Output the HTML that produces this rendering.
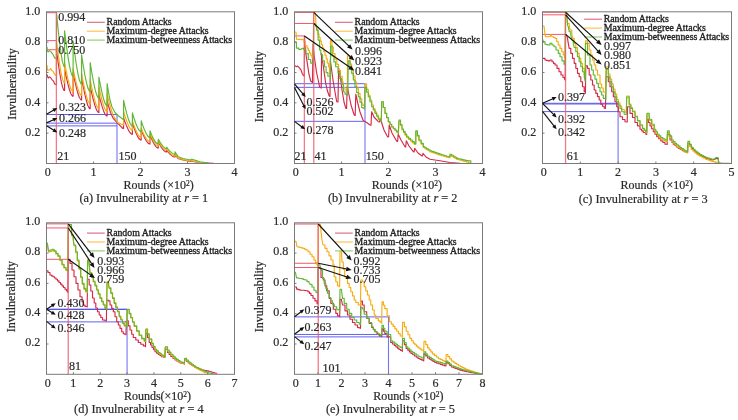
<!DOCTYPE html>
<html><head><meta charset="utf-8"><style>
html,body{margin:0;padding:0;background:#fff;}
svg{display:block;}
#w{will-change:transform;width:738px;height:420px;overflow:hidden;}
text{font-family:"Liberation Serif",serif;fill:#2a2a2a;stroke:#2a2a2a;stroke-width:0.2px;}
.lg{stroke-width:0.35px;fill:#1e1e1e;stroke:#1e1e1e;}
</style></head><body><div id="w">
<svg width="738" height="420" viewBox="0 0 738 420">
<rect width="738" height="420" fill="#fff"/>
<line x1="46.5" y1="12.71" x2="56.37" y2="12.71" stroke="#f03a4c" stroke-width="1" opacity="0.85"/>
<line x1="46.5" y1="40.62" x2="56.37" y2="40.62" stroke="#f03a4c" stroke-width="1" opacity="0.85"/>
<line x1="46.5" y1="49.73" x2="56.37" y2="49.73" stroke="#f03a4c" stroke-width="1" opacity="0.85"/>
<line x1="46.5" y1="114.5" x2="117" y2="114.5" stroke="#4646f0" stroke-width="1" opacity="0.85"/>
<line x1="46.5" y1="123.15" x2="117" y2="123.15" stroke="#4646f0" stroke-width="1" opacity="0.85"/>
<line x1="46.5" y1="125.88" x2="117" y2="125.88" stroke="#4646f0" stroke-width="1" opacity="0.85"/>
<line x1="117" y1="114.5" x2="117" y2="163.5" stroke="#4646f0" stroke-width="1.1" opacity="0.75"/>
<path d="M46.9,74.5 L48.2,78.1 L49.4,76.9 L50.5,77.5 L51.7,79.3 L53.5,81.1 L54.7,84 L56,84.6 L56.5,84.6 L56.5,49.9 L57.84,60.35 L59.48,71.63 L61.12,80.99 L62.46,86.87 L64,90.5 L64.6,90.5 L64.6,68.6 L66.01,75.71 L67.73,83.37 L69.45,89.73 L70.86,93.73 L72.5,96.2 L73.1,96.2 L73.1,72.4 L74.51,79.51 L76.23,87.17 L77.95,93.53 L79.36,97.53 L81,100 L81.6,100 L81.6,77.1 L83.02,85.21 L84.76,93.96 L86.51,101.22 L87.93,105.78 L89.6,108.6 L90.2,108.6 L90.2,86 L91.64,92.82 L93.4,100.18 L95.16,106.29 L96.6,110.13 L98.3,112.5 L98.9,112.5 L98.9,94.3 L100.26,99.89 L101.92,105.91 L103.58,110.92 L104.94,114.06 L106.5,116 L107.1,116 L107.1,100.7 L108.5,106 L110.5,112.5 L113,118 L118.3,123.8 L122.9,128.5 L123.6,128.5 L123.6,117.9 L125.06,122.1 L126.84,126.62 L128.62,130.38 L130.08,132.74 L131.8,134.2 L132.4,134.2 L132.4,123.3 L133.86,127.6 L135.64,132.24 L137.42,136.09 L138.88,138.51 L140.6,140 L141.2,140 L141.2,130 L142.66,133.6 L144.44,137.49 L146.22,140.72 L147.68,142.75 L149.4,144 L150,144 L150,135 L151.37,138.35 L153.05,141.96 L154.73,144.95 L156.11,146.84 L157.7,148 L158.3,148 L158.3,142 L159.67,144.57 L161.35,147.35 L163.03,149.66 L164.41,151.11 L166,152 L166.6,152 L166.6,150 L167.99,151.8 L169.69,153.75 L171.39,155.36 L172.78,156.37 L174.4,157 L175,157 L175,154.5 L178,158.5 L183,160 L190.7,161.5 L191.5,161 L193,161.5 L200,162.8 L213.6,163.4" fill="none" stroke="#d42a48" stroke-width="1.15" stroke-linejoin="round"/>
<path d="M46.9,65 L47.6,70.4 L49.4,69.8 L50.5,68.6 L51.7,70.4 L52.9,71 L54.7,74.5 L56,75.7 L56.5,75.7 L56.5,40.8 L57.84,51.64 L59.48,63.33 L61.12,73.04 L62.46,79.13 L64,82.9 L64.6,82.9 L64.6,62.9 L66.01,70.24 L67.73,78.15 L69.45,84.72 L70.86,88.85 L72.5,91.4 L73.1,91.4 L73.1,68.6 L74.51,75.45 L76.23,82.84 L77.95,88.97 L79.36,92.82 L81,95.2 L81.6,95.2 L81.6,73.3 L83.02,81.15 L84.76,89.62 L86.51,96.66 L87.93,101.07 L89.6,103.8 L90.2,103.8 L90.2,79.5 L91.64,86.97 L93.4,95.02 L95.16,101.71 L96.6,105.91 L98.3,108.5 L98.9,108.5 L98.9,86.4 L100.26,92.84 L101.92,99.78 L103.58,105.54 L104.94,109.16 L106.5,111.4 L107.1,111.4 L107.1,92.9 L108.5,100 L110.5,107.5 L113,115 L117.5,122.5 L122.9,124.8 L123.6,124.8 L123.6,111.4 L125.06,116.19 L126.84,121.36 L128.62,125.64 L130.08,128.34 L131.8,130 L132.4,130 L132.4,120.8 L133.86,125.1 L135.64,129.74 L137.42,133.59 L138.88,136.01 L140.6,137.5 L141.2,137.5 L141.2,128.3 L142.66,131.75 L144.44,135.47 L146.22,138.56 L147.68,140.5 L149.4,141.7 L150,141.7 L150,133.3 L151.37,136.57 L153.05,140.1 L154.73,143.03 L156.11,144.86 L157.7,146 L158.3,146 L158.3,141 L159.67,143.32 L161.35,145.82 L163.03,147.89 L164.41,149.2 L166,150 L166.6,150 L166.6,149 L167.99,150.8 L169.69,152.75 L171.39,154.36 L172.78,155.37 L174.4,156 L175,156 L175,153.5 L178,157.8 L183,159.6 L190.7,161 L191.5,160.5 L193,161 L200,162.6 L208,163.3" fill="none" stroke="#f6ad12" stroke-width="1.15" stroke-linejoin="round"/>
<path d="M46.9,46.5 L47.4,51 L48.2,51.9 L49.4,50.7 L51.1,51.9 L52.9,54.3 L54.7,57.9 L56,58.5 L56.5,58.5 L56.5,12.6 L57.84,26.53 L59.48,41.56 L61.12,54.03 L62.46,61.86 L64,66.7 L64.6,66.7 L64.6,30.8 L66.01,42.49 L67.73,55.1 L69.45,65.57 L70.86,72.14 L72.5,76.2 L73.1,76.2 L73.1,41 L74.51,52.02 L76.23,63.91 L77.95,73.77 L79.36,79.97 L81,83.8 L81.6,83.8 L81.6,54.8 L83.02,64.22 L84.76,74.39 L86.51,82.83 L87.93,88.13 L89.6,91.4 L90.2,91.4 L90.2,62.5 L91.64,71.64 L93.4,81.5 L95.16,89.68 L96.6,94.82 L98.3,98 L98.9,98 L98.9,77.1 L100.26,84.46 L101.92,92.41 L103.58,99 L104.94,103.14 L106.5,105.7 L107.1,105.7 L107.1,83.6 L108.5,92 L110,100 L112,107 L115,112.5 L118,115.5 L122.9,119.3 L123.6,119.3 L123.6,100.3 L125.06,106.87 L126.84,113.95 L128.62,119.83 L130.08,123.52 L131.8,125.8 L132.4,125.8 L132.4,112.9 L133.86,117.74 L135.64,122.96 L137.42,127.3 L138.88,130.02 L140.6,131.7 L141.2,131.7 L141.2,120.8 L142.66,125.1 L144.44,129.74 L146.22,133.59 L147.68,136.01 L149.4,137.5 L150,137.5 L150,130.8 L151.37,134.2 L153.05,137.87 L154.73,140.91 L156.11,142.82 L157.7,144 L158.3,144 L158.3,139.2 L159.67,141.59 L161.35,144.18 L163.03,146.32 L164.41,147.67 L166,148.5 L166.6,148.5 L166.6,147.2 L167.99,149.03 L169.69,151 L171.39,152.64 L172.78,153.66 L174.4,154.3 L175,154.3 L175,151.9 L178,156.5 L183,158.5 L190.7,160 L191.5,159.2 L193,159.6 L200,161.8 L208.6,163.1" fill="none" stroke="#5fb834" stroke-width="1.15" stroke-linejoin="round"/>
<line x1="56.37" y1="12.71" x2="56.37" y2="163.5" stroke="#f06272" stroke-width="1.3" opacity="0.85"/>
<rect x="46.5" y="11.8" width="188" height="151.7" fill="none" stroke="#7a7a7a" stroke-width="1"/>
<line x1="93.5" y1="163.5" x2="93.5" y2="161.5" stroke="#7a7a7a" stroke-width="1"/>
<line x1="140.5" y1="163.5" x2="140.5" y2="161.5" stroke="#7a7a7a" stroke-width="1"/>
<line x1="187.5" y1="163.5" x2="187.5" y2="161.5" stroke="#7a7a7a" stroke-width="1"/>
<line x1="46.5" y1="133.16" x2="48.5" y2="133.16" stroke="#7a7a7a" stroke-width="1"/>
<line x1="46.5" y1="102.82" x2="48.5" y2="102.82" stroke="#7a7a7a" stroke-width="1"/>
<line x1="46.5" y1="72.48" x2="48.5" y2="72.48" stroke="#7a7a7a" stroke-width="1"/>
<line x1="46.5" y1="42.14" x2="48.5" y2="42.14" stroke="#7a7a7a" stroke-width="1"/>
<text x="47.7" y="176.1" font-size="12" text-anchor="middle" >0</text>
<text x="93.5" y="176.1" font-size="12" text-anchor="middle" >1</text>
<text x="140.5" y="176.1" font-size="12" text-anchor="middle" >2</text>
<text x="187.5" y="176.1" font-size="12" text-anchor="middle" >3</text>
<text x="234.5" y="176.1" font-size="12" text-anchor="middle" >4</text>
<text x="40.2" y="136.16" font-size="12" text-anchor="end" >0.2</text>
<text x="40.2" y="105.82" font-size="12" text-anchor="end" >0.4</text>
<text x="40.2" y="75.48" font-size="12" text-anchor="end" >0.6</text>
<text x="40.2" y="45.14" font-size="12" text-anchor="end" >0.8</text>
<text x="40.2" y="14.8" font-size="12" text-anchor="end" >1.0</text>
<text x="0" y="0" font-size="12" text-anchor="middle" transform="translate(15.6,84) rotate(-90)">Invulnerability</text>
<text x="123.5" y="188.6" font-size="12" text-anchor="start" >Rounds (×10<tspan font-size="7.5" dy="-2.5">2</tspan><tspan dy="2.5">)</tspan></text>
<text x="79.4" y="202.2" font-size="12.3" text-anchor="start" >(a) Invulnerability at <tspan font-style="italic">r</tspan> = 1</text>
<line x1="87" y1="22.3" x2="104.8" y2="22.3" stroke="#dd6a86" stroke-width="1.15"/>
<text x="106.6" y="24.9" font-size="9.8" text-anchor="start" class="lg">Random Attacks</text>
<line x1="87" y1="31.2" x2="104.8" y2="31.2" stroke="#fbc24e" stroke-width="1.15"/>
<text x="106.6" y="33.8" font-size="9.8" text-anchor="start" class="lg">Maximum-degree Attacks</text>
<line x1="87" y1="40.1" x2="104.8" y2="40.1" stroke="#8fce6e" stroke-width="1.15"/>
<text x="106.6" y="42.7" font-size="9.8" text-anchor="start" class="lg">Maximum-betweenness Attacks</text>
<text x="58.2" y="20.9" font-size="12" text-anchor="start" >0.994</text>
<text x="58.2" y="43.5" font-size="12" text-anchor="start" >0.810</text>
<text x="58.2" y="54.2" font-size="12" text-anchor="start" >0.750</text>
<line x1="46.5" y1="114.3" x2="53.83" y2="110.09" stroke="#111" stroke-width="1.15"/>
<polygon points="57.3,108.1 54.39,112.07 52.4,108.61" fill="#111"/>
<text x="59" y="111.4" font-size="12" text-anchor="start" >0.323</text>
<line x1="46.5" y1="122.9" x2="53.64" y2="119.72" stroke="#111" stroke-width="1.15"/>
<polygon points="57.3,118.1 54,121.76 52.38,118.1" fill="#111"/>
<text x="59" y="122.1" font-size="12" text-anchor="start" >0.266</text>
<line x1="46.5" y1="125.7" x2="53.9" y2="130.29" stroke="#111" stroke-width="1.15"/>
<polygon points="57.3,132.4 52.42,131.73 54.53,128.33" fill="#111"/>
<text x="59" y="137.1" font-size="12" text-anchor="start" >0.248</text>
<text x="57.2" y="159.9" font-size="12" text-anchor="start" >21</text>
<text x="118.5" y="159.9" font-size="12" text-anchor="start" >150</text>
<line x1="294.5" y1="12.41" x2="313.77" y2="12.41" stroke="#f03a4c" stroke-width="1" opacity="0.85"/>
<line x1="294.5" y1="23.48" x2="313.77" y2="23.48" stroke="#f03a4c" stroke-width="1" opacity="0.85"/>
<line x1="294.5" y1="35.92" x2="304.37" y2="35.92" stroke="#f03a4c" stroke-width="1" opacity="0.85"/>
<line x1="294.5" y1="83.71" x2="365" y2="83.71" stroke="#4646f0" stroke-width="1" opacity="0.85"/>
<line x1="294.5" y1="87.35" x2="365" y2="87.35" stroke="#4646f0" stroke-width="1" opacity="0.85"/>
<line x1="294.5" y1="121.33" x2="365" y2="121.33" stroke="#4646f0" stroke-width="1" opacity="0.85"/>
<line x1="365" y1="83.71" x2="365" y2="163.5" stroke="#4646f0" stroke-width="1.1" opacity="0.75"/>
<path d="M294.5,65.5 L296.4,66.7 L297.6,66.1 L299.4,67.9 L301.1,70.2 L302.3,73.8 L303.5,75.6 L304.3,76 L304.5,36.1 L305.3,50 L307.1,61.9 L308.9,73.8 L310.7,81 L312.5,82.5 L313,44 L314.2,56 L315.4,64.3 L316.6,72.6 L318.4,81 L319.6,86.9 L321.2,88.1 L321.6,53.6 L323,64 L324.4,73.8 L325.5,82.1 L327.3,90.5 L329.1,95.8 L330,96.5 L330.3,60 L333,80 L335,92 L336.7,101.7 L338,102 L338.6,68 L340.5,78 L342,90 L344,102 L345.8,108.3 L346.6,108.5 L347.2,86.7 L349,95 L351,105 L354.2,115 L355.2,115.5 L355.8,94.2 L358,104 L360,112 L363.3,120.8 L366.7,122.5 L370,125 L371,125.3 L371.7,111.7 L374,117 L378.3,121.7 L379.6,122 L380.3,118.5 L384,130 L387.5,136.7 L388.6,137 L389.2,125 L392,133 L396.7,141.2 L397.6,141.5 L398.2,134.2 L401,140 L405,146.7 L405.7,147 L406.3,140.8 L409,146 L413.3,151.7 L414.1,152 L414.7,148.3 L418,153 L421.7,155.8 L422.4,156 L423,153.3 L426,157 L430,159.2 L440,160.8 L450,162.5 L460,163.3" fill="none" stroke="#d42a48" stroke-width="1.15" stroke-linejoin="round"/>
<path d="M294.5,32 L296,32 L296.5,39.2 L298.13,39.2 L298.13,39.37 L299.77,39.37 L299.77,39.53 L301.4,39.53 L301.4,39.7 L302,39.2 L303,39.7 L304.1,39.7 L304.1,42.1 L305.3,42.1 L305.3,44.5 L306,45.7 L307.1,45.7 L307.1,48.1 L308.3,48.1 L308.3,50.5 L309.5,50.5 L309.5,52.9 L310.7,52.9 L310.7,55.2 L311.9,55.2 L311.9,57.6 L313.3,57.6 L313.3,58 L313.6,12.2 L314.8,12.4 L315.5,15 L316,25.5 L316.6,29 L317.8,29 L317.8,33.8 L319,33.8 L319,37.4 L320.2,37.4 L320.2,41 L321.4,41 L321.4,44.5 L322.6,44.5 L322.6,48 L323.8,48 L323.8,51.7 L325,51.7 L325,55.2 L326.2,55.2 L326.2,58.8 L327.3,58.8 L327.3,63 L328.5,63 L328.5,67 L329.7,67 L329.7,72 L330.3,75 L330.5,40.4 L331.9,40.4 L331.9,47 L333.3,47 L333.3,53.6 L335,53.6 L335,59.5 L336.9,59.5 L336.9,64.3 L338.6,64.3 L338.6,70.2 L340.4,70.2 L340.4,76.2 L342.2,76.2 L342.2,82.1 L343.3,82.1 L343.3,87.5 L345,87.5 L345,90 L347.3,90 L347.3,91 L347.5,55.8 L350,55.8 L350,64 L351.65,64 L351.65,70 L353.3,70 L353.3,76 L355,76 L355,82 L356.7,82 L356.7,88 L358.37,88 L358.37,93.33 L360.03,93.33 L360.03,98.67 L361.7,98.67 L361.7,104 L363.1,104 L363.1,105.5 L364.5,105.5 L364.5,107 L364.9,83.8 L366.6,83.8 L366.6,89.4 L368.3,89.4 L368.3,95 L370,95 L370,100 L371.7,100 L371.7,105 L373.35,105 L373.35,108.5 L375,108.5 L375,112 L376.65,112 L376.65,115 L378.3,115 L378.3,118 L379.8,118 L379.8,119.25 L381.3,119.25 L381.3,120.5 L381.7,101.7 L383.35,101.7 L383.35,107.5 L385,107.5 L385,113.3 L386.65,113.3 L386.65,117.65 L388.3,117.65 L388.3,122 L390,122 L390,124.5 L391.7,124.5 L391.7,127 L393.35,127 L393.35,128.75 L395,128.75 L395,130.5 L396.65,130.5 L396.65,132.25 L398.3,132.25 L398.3,134 L399,121 L400.5,121 L400.5,125.5 L402,125.5 L402,130 L403.57,130 L403.57,132.57 L405.13,132.57 L405.13,135.13 L406.7,135.13 L406.7,137.7 L408.57,137.7 L408.57,139.35 L410.45,139.35 L410.45,141 L412.32,141 L412.32,142.65 L414.2,142.65 L414.2,144.3 L415.8,144.3 L415.8,131.5 L417.4,131.5 L417.4,136.25 L419,136.25 L419,141 L421.15,141 L421.15,144.25 L423.3,144.25 L423.3,147.5 L424.98,147.5 L424.98,148.57 L426.65,148.57 L426.65,149.65 L428.32,149.65 L428.32,150.73 L430,150.73 L430,151.8 L431.67,151.8 L431.67,152.37 L433.33,152.37 L433.33,152.93 L435,152.93 L435,153.5 L436.67,153.5 L436.67,154.07 L438.33,154.07 L438.33,154.63 L440,154.63 L440,155.2 L441.66,155.2 L441.66,155.7 L443.32,155.7 L443.32,156.2 L444.98,156.2 L444.98,156.7 L446.64,156.7 L446.64,157.2 L448.3,157.2 L448.3,157.7 L450,157.7 L450,155.5 L451.68,155.5 L451.68,156.45 L453.35,156.45 L453.35,157.4 L455.02,157.4 L455.02,158.35 L456.7,158.35 L456.7,159.3 L458.36,159.3 L458.36,159.74 L460.02,159.74 L460.02,160.18 L461.68,160.18 L461.68,160.62 L463.34,160.62 L463.34,161.06 L465,161.06 L465,161.5 L466.67,161.5 L466.67,162.1 L468.33,162.1 L468.33,162.7 L470,162.7 L470,163.3" fill="none" stroke="#f6ad12" stroke-width="1.15" stroke-linejoin="round"/>
<path d="M294.5,42.1 L296.4,42.1 L296.4,48.1 L298.8,48.1 L298.8,49.3 L301,49.3 L302,48.3 L303.5,48.3 L303.5,49.3 L305.9,49.3 L305.9,53.6 L308.3,53.6 L308.3,59.5 L310.7,59.5 L310.7,63.1 L313.3,63.1 L313.3,65.5 L313.6,23.7 L315.5,23.7 L315.5,26 L316.6,26 L316.6,30.2 L318.1,30.2 L318.1,40.1 L319.6,40.1 L319.6,50 L320.8,50 L320.8,54.8 L322.6,54.8 L322.6,60.7 L324.4,60.7 L324.4,66.7 L326.1,66.7 L326.1,72.6 L327.9,72.6 L327.9,76.2 L330.3,76.2 L330.3,79.2 L330.7,46 L332.1,46 L332.1,56 L333.9,56 L333.9,61.9 L335.7,61.9 L335.7,66.7 L338,66.7 L338,72.6 L339.8,72.6 L339.8,78.6 L341.6,78.6 L341.6,84.5 L343.4,84.5 L343.4,91.7 L345,91.7 L345,94.2 L346.4,94.2 L346.4,94.6 L347.8,94.6 L347.8,95 L348.3,60.8 L350,60.8 L350,68.3 L351.7,68.3 L351.7,73.3 L353.3,73.3 L353.3,80 L355,80 L355,86.7 L356.7,86.7 L356.7,92.5 L358.3,92.5 L358.3,96.7 L360,96.7 L360,102.1 L361.7,102.1 L361.7,107.5 L363.1,107.5 L363.1,108.25 L364.5,108.25 L364.5,109 L364.9,87.4 L366.6,87.4 L366.6,92.05 L368.3,92.05 L368.3,96.7 L370,96.7 L370,101.7 L371.7,101.7 L371.7,106.7 L373.35,106.7 L373.35,110 L375,110 L375,113.3 L376.65,113.3 L376.65,116.25 L378.3,116.25 L378.3,119.2 L379.8,119.2 L379.8,120.45 L381.3,120.45 L381.3,121.7 L381.7,101.7 L383.35,101.7 L383.35,107.5 L385,107.5 L385,113.3 L386.65,113.3 L386.65,117.5 L388.3,117.5 L388.3,121.7 L390,121.7 L390,124.2 L391.7,124.2 L391.7,126.7 L393.35,126.7 L393.35,128.35 L395,128.35 L395,130 L396.65,130 L396.65,131.65 L398.3,131.65 L398.3,133.3 L399,120 L400.5,120 L400.5,124.5 L402,124.5 L402,129 L403.57,129 L403.57,131.57 L405.13,131.57 L405.13,134.13 L406.7,134.13 L406.7,136.7 L408.57,136.7 L408.57,138.35 L410.45,138.35 L410.45,140 L412.32,140 L412.32,141.65 L414.2,141.65 L414.2,143.3 L415.8,143.3 L415.8,130.8 L417.4,130.8 L417.4,135.4 L419,135.4 L419,140 L421.15,140 L421.15,143.35 L423.3,143.35 L423.3,146.7 L424.98,146.7 L424.98,147.72 L426.65,147.72 L426.65,148.75 L428.32,148.75 L428.32,149.78 L430,149.78 L430,150.8 L431.67,150.8 L431.67,151.37 L433.33,151.37 L433.33,151.93 L435,151.93 L435,152.5 L436.67,152.5 L436.67,153.07 L438.33,153.07 L438.33,153.63 L440,153.63 L440,154.2 L441.66,154.2 L441.66,154.7 L443.32,154.7 L443.32,155.2 L444.98,155.2 L444.98,155.7 L446.64,155.7 L446.64,156.2 L448.3,156.2 L448.3,156.7 L450,156.7 L450,154.2 L451.68,154.2 L451.68,155.22 L453.35,155.22 L453.35,156.25 L455.02,156.25 L455.02,157.28 L456.7,157.28 L456.7,158.3 L458.36,158.3 L458.36,158.7 L460.02,158.7 L460.02,159.1 L461.68,159.1 L461.68,159.5 L463.34,159.5 L463.34,159.9 L465,159.9 L465,160.3 L466.65,160.3 L466.65,160.55 L468.3,160.55 L468.3,160.8 L470.8,160.8 L470.8,163.3" fill="none" stroke="#5fb834" stroke-width="1.15" stroke-linejoin="round"/>
<line x1="304.37" y1="35.92" x2="304.37" y2="163.5" stroke="#f06272" stroke-width="1.3" opacity="0.85"/>
<line x1="313.77" y1="12.41" x2="313.77" y2="163.5" stroke="#f06272" stroke-width="1.3" opacity="0.85"/>
<rect x="294.5" y="11.8" width="188" height="151.7" fill="none" stroke="#7a7a7a" stroke-width="1"/>
<line x1="341.5" y1="163.5" x2="341.5" y2="161.5" stroke="#7a7a7a" stroke-width="1"/>
<line x1="388.5" y1="163.5" x2="388.5" y2="161.5" stroke="#7a7a7a" stroke-width="1"/>
<line x1="435.5" y1="163.5" x2="435.5" y2="161.5" stroke="#7a7a7a" stroke-width="1"/>
<line x1="294.5" y1="133.16" x2="296.5" y2="133.16" stroke="#7a7a7a" stroke-width="1"/>
<line x1="294.5" y1="102.82" x2="296.5" y2="102.82" stroke="#7a7a7a" stroke-width="1"/>
<line x1="294.5" y1="72.48" x2="296.5" y2="72.48" stroke="#7a7a7a" stroke-width="1"/>
<line x1="294.5" y1="42.14" x2="296.5" y2="42.14" stroke="#7a7a7a" stroke-width="1"/>
<text x="295.7" y="176.1" font-size="12" text-anchor="middle" >0</text>
<text x="341.5" y="176.1" font-size="12" text-anchor="middle" >1</text>
<text x="388.5" y="176.1" font-size="12" text-anchor="middle" >2</text>
<text x="435.5" y="176.1" font-size="12" text-anchor="middle" >3</text>
<text x="482.5" y="176.1" font-size="12" text-anchor="middle" >4</text>
<text x="288.2" y="136.16" font-size="12" text-anchor="end" >0.2</text>
<text x="288.2" y="105.82" font-size="12" text-anchor="end" >0.4</text>
<text x="288.2" y="75.48" font-size="12" text-anchor="end" >0.6</text>
<text x="288.2" y="45.14" font-size="12" text-anchor="end" >0.8</text>
<text x="288.2" y="14.8" font-size="12" text-anchor="end" >1.0</text>
<text x="0" y="0" font-size="12" text-anchor="middle" transform="translate(263.2,86.6) rotate(-90)">Invulnerability</text>
<text x="371.8" y="188.6" font-size="12" text-anchor="start" >Rounds (×10<tspan font-size="7.5" dy="-2.5">2</tspan><tspan dy="2.5">)</tspan></text>
<text x="327.9" y="202.2" font-size="12.3" text-anchor="start" >(b) Invulnerability at <tspan font-style="italic">r</tspan> = 2</text>
<line x1="335" y1="22.3" x2="352.8" y2="22.3" stroke="#dd6a86" stroke-width="1.15"/>
<text x="354.6" y="24.9" font-size="9.8" text-anchor="start" class="lg">Random Attacks</text>
<line x1="335" y1="31.2" x2="352.8" y2="31.2" stroke="#fbc24e" stroke-width="1.15"/>
<text x="354.6" y="33.8" font-size="9.8" text-anchor="start" class="lg">Maximum-degree Attacks</text>
<line x1="335" y1="40.1" x2="352.8" y2="40.1" stroke="#8fce6e" stroke-width="1.15"/>
<text x="354.6" y="42.7" font-size="9.8" text-anchor="start" class="lg">Maximum-betweenness Attacks</text>
<text x="355" y="54.8" font-size="12" text-anchor="start" >0.996</text>
<text x="355" y="65" font-size="12" text-anchor="start" >0.923</text>
<text x="355" y="74.8" font-size="12" text-anchor="start" >0.841</text>
<line x1="313.77" y1="12.41" x2="348.99" y2="46.14" stroke="#111" stroke-width="1.15"/>
<polygon points="352.6,49.6 347.04,47.46 350.22,44.13" fill="#111"/>
<line x1="313.77" y1="23.48" x2="350.6" y2="57.03" stroke="#111" stroke-width="1.15"/>
<polygon points="354.3,60.4 348.69,58.4 351.78,55" fill="#111"/>
<line x1="304.37" y1="35.92" x2="350.19" y2="67.56" stroke="#111" stroke-width="1.15"/>
<polygon points="354.3,70.4 348.47,69.17 351.08,65.38" fill="#111"/>
<line x1="294.5" y1="83.9" x2="303.11" y2="94.05" stroke="#111" stroke-width="1.15"/>
<polygon points="305.7,97.1 301.26,94.96 304.31,92.37" fill="#111"/>
<text x="306.4" y="105.7" font-size="12" text-anchor="start" >0.526</text>
<line x1="294.5" y1="87.4" x2="303.88" y2="105.74" stroke="#111" stroke-width="1.15"/>
<polygon points="305.7,109.3 301.87,106.2 305.43,104.38" fill="#111"/>
<text x="306.4" y="115.2" font-size="12" text-anchor="start" >0.502</text>
<line x1="294.5" y1="121.4" x2="301.98" y2="126.92" stroke="#111" stroke-width="1.15"/>
<polygon points="305.2,129.3 300.39,128.24 302.77,125.02" fill="#111"/>
<text x="306.4" y="133.6" font-size="12" text-anchor="start" >0.278</text>
<text x="294.6" y="159.9" font-size="12" text-anchor="start" >21</text>
<text x="314.6" y="159.9" font-size="12" text-anchor="start" >41</text>
<text x="365.8" y="159.9" font-size="12" text-anchor="start" >150</text>
<line x1="542.5" y1="12.26" x2="565.56" y2="12.26" stroke="#f03a4c" stroke-width="1" opacity="0.85"/>
<line x1="542.5" y1="14.83" x2="565.56" y2="14.83" stroke="#f03a4c" stroke-width="1" opacity="0.85"/>
<line x1="542.5" y1="34.4" x2="565.56" y2="34.4" stroke="#f03a4c" stroke-width="1" opacity="0.85"/>
<line x1="542.5" y1="103.28" x2="618.1" y2="103.28" stroke="#4646f0" stroke-width="1" opacity="0.85"/>
<line x1="542.5" y1="104.03" x2="618.1" y2="104.03" stroke="#4646f0" stroke-width="1" opacity="0.85"/>
<line x1="542.5" y1="111.62" x2="618.1" y2="111.62" stroke="#4646f0" stroke-width="1" opacity="0.85"/>
<line x1="618.1" y1="103.28" x2="618.1" y2="163.5" stroke="#4646f0" stroke-width="1.1" opacity="0.75"/>
<path d="M542.5,58.3 L545,58.3 L545,60 L546.5,60 L546.5,60.4 L548,60.4 L548,60.8 L550,60.8 L550,60 L552,60 L552,61.7 L553.5,61.7 L553.5,63.35 L555,63.35 L555,65 L557,65 L557,68.3 L559,68.3 L559,71.7 L561,71.7 L561,75 L563,75 L563,77.5 L564.5,77.5 L564.5,79.2 L565.2,80 L565.4,34.6 L566.5,34.6 L566.5,35 L567.5,38.3 L568.3,43.3 L569.2,48.3 L570.8,48.3 L570.8,53.3 L572.5,53.3 L572.5,58.3 L574.2,58.3 L574.2,63.3 L575.8,63.3 L575.8,68.3 L577.5,68.3 L577.5,73.3 L579.2,73.3 L579.2,76.7 L580.8,76.7 L580.8,81.7 L582.5,81.7 L582.5,86.7 L584.2,86.7 L584.2,91.7 L585.4,91.7 L585.4,93.3 L585.8,65.8 L587.5,65.8 L587.5,68.3 L589.2,68.3 L589.2,75 L590.8,75 L590.8,80 L592.5,80 L592.5,85 L594.2,85 L594.2,90 L595.8,90 L595.8,93.3 L597.5,93.3 L597.5,96.65 L599.2,96.65 L599.2,100 L600.8,100 L600.8,104.2 L602.5,104.2 L602.5,106.25 L604.2,106.25 L604.2,108.3 L605.5,108.5 L605.8,76.7 L608.3,76.7 L608.3,81.7 L610,81.7 L610,86.7 L611.7,86.7 L611.7,91.7 L613.35,91.7 L613.35,96.7 L615,96.7 L615,101.7 L616.7,101.7 L616.7,106.7 L618.3,106.7 L618.3,111.7 L620,111.7 L620,116.7 L622.5,116.7 L622.5,119.5 L625,119.5 L625,121.7 L627.2,122 L627.5,106.7 L630,106.7 L630,113.3 L632.5,113.3 L632.5,117.5 L635,117.5 L635,122.5 L637.5,122.5 L637.5,125.8 L640,125.8 L640,129.2 L641.65,129.2 L641.65,130.85 L643.3,130.85 L643.3,132.5 L645.8,132.5 L645.8,134.2 L646.7,134.5 L647,119.2 L648.5,119.2 L648.5,122.5 L650,122.5 L650,125.8 L651.65,125.8 L651.65,128.75 L653.3,128.75 L653.3,131.7 L655,131.7 L655,134.2 L656.7,134.2 L656.7,136.7 L658.75,136.7 L658.75,138.75 L660.8,138.75 L660.8,140.8 L662.9,140.8 L662.9,142.5 L665,142.5 L665,144.2 L667.2,144.2 L667.2,144.5 L667.5,134.2 L670,134.2 L670,140 L671.65,140 L671.65,142.1 L673.3,142.1 L673.3,144.2 L674.97,144.2 L674.97,145.57 L676.63,145.57 L676.63,146.93 L678.3,146.93 L678.3,148.3 L680.27,148.3 L680.27,149.43 L682.23,149.43 L682.23,150.57 L684.2,150.57 L684.2,151.7 L685.9,151.7 L685.9,152.1 L687.6,152.1 L687.6,152.5 L687.9,143.3 L689.6,143.3 L689.6,146 L691.4,146 L691.4,148.5 L693.2,148.5 L693.2,150.25 L695,150.25 L695,152 L696.6,152 L696.6,153.17 L698.2,153.17 L698.2,154.33 L699.8,154.33 L699.8,155.5 L701.77,155.5 L701.77,156.43 L703.73,156.43 L703.73,157.37 L705.7,157.37 L705.7,158.3 L707.7,158.3 L707.7,158.8 L709.7,158.8 L709.7,159.3 L711.7,159.3 L711.7,159.8 L713.35,159.8 L713.35,159.4 L715,159.4 L715,159 L715.5,158.3 L716.85,158.3 L716.85,158.55 L718.2,158.55 L718.2,158.8 L718.8,163.3 L722,163.4" fill="none" stroke="#d42a48" stroke-width="1.15" stroke-linejoin="round"/>
<path d="M542.5,25.8 L544,26 L545,34.2 L545.5,36.7 L550,36.7 L551,34.5 L552,36.7 L553.5,36.7 L553.5,37.5 L555,37.5 L555,38.3 L556.7,38.3 L556.7,41.7 L558.3,41.7 L558.3,45 L560,45 L560,48.3 L561.7,48.3 L561.7,51.7 L563.3,51.7 L563.3,55 L564.5,55 L564.5,57.5 L565.2,58 L565.4,12.2 L566.5,12.2 L566.5,12.5 L567.5,23.3 L569.2,23.3 L569.2,25 L570,30 L571.7,30 L571.7,32.5 L572.5,38.3 L574.2,38.3 L574.2,43.3 L575.8,43.3 L575.8,47.5 L577.5,47.5 L577.5,53.3 L579.2,53.3 L579.2,58.3 L580.8,58.3 L580.8,63.3 L582.5,63.3 L582.5,68.3 L584.2,68.3 L584.2,73.3 L585.2,76.7 L585.5,40.8 L587.5,40.8 L587.5,43.3 L589.2,43.3 L589.2,50 L590.8,50 L590.8,55 L592.5,55 L592.5,60 L594.2,60 L594.2,65 L595.8,65 L595.8,70 L597.5,70 L597.5,75 L600,75 L600,84 L601.65,84 L601.65,88 L603.3,88 L603.3,92 L605.5,92 L605.5,94.5 L606,66.7 L608.3,66.7 L608.3,74 L610,74 L610,79 L611.7,79 L611.7,84 L613.35,84 L613.35,89 L615,89 L615,94 L616.7,94 L616.7,99.5 L618.35,99.5 L618.35,102.75 L620,102.75 L620,106 L621.7,106 L621.7,109.5 L624.2,109.5 L624.2,112 L626.3,112 L626.3,113 L626.7,96 L629.2,96 L629.2,104 L630.85,104 L630.85,107.5 L632.5,107.5 L632.5,111 L635,111 L635,116 L637.5,116 L637.5,120.5 L640,120.5 L640,125 L642.5,125 L642.5,128.5 L644.15,128.5 L644.15,130.5 L645.8,130.5 L645.8,132.5 L646.7,133 L647,115 L649.2,115 L649.2,120.5 L651.7,120.5 L651.7,125.5 L654.2,125.5 L654.2,130.5 L655.85,130.5 L655.85,133 L657.5,133 L657.5,135.5 L659.15,135.5 L659.15,137.15 L660.8,137.15 L660.8,138.8 L662.9,138.8 L662.9,140.15 L665,140.15 L665,141.5 L667.2,141.5 L667.2,142 L667.5,132.5 L669.2,132.5 L669.2,137.5 L671.7,137.5 L671.7,141.5 L673.35,141.5 L673.35,143.25 L675,143.25 L675,145 L676.67,145 L676.67,146.33 L678.33,146.33 L678.33,147.67 L680,147.67 L680,149 L681.67,149 L681.67,149.93 L683.35,149.93 L683.35,150.85 L685.03,150.85 L685.03,151.77 L686.7,151.77 L686.7,152.7 L687.6,153 L687.9,143.8 L689.6,143.8 L689.6,146.5 L691.4,146.5 L691.4,149.5 L693.2,149.5 L693.2,151.25 L695,151.25 L695,153 L696.6,153 L696.6,154.07 L698.2,154.07 L698.2,155.13 L699.8,155.13 L699.8,156.2 L701.77,156.2 L701.77,157.23 L703.73,157.23 L703.73,158.27 L705.7,158.27 L705.7,159.3 L707.7,159.3 L707.7,159.97 L709.7,159.97 L709.7,160.63 L711.7,160.63 L711.7,161.3 L713.67,161.3 L713.67,161.83 L715.63,161.83 L715.63,162.37 L717.6,162.37 L717.6,162.9" fill="none" stroke="#f6ad12" stroke-width="1.15" stroke-linejoin="round"/>
<path d="M542.5,39.2 L543.5,41.7 L545,41.7 L545,44.2 L546.5,44.2 L546.5,44.6 L548,44.6 L548,45 L550,45 L550,43.3 L552,43.3 L552,45 L554,45 L554,46.7 L556,46.7 L556,50 L558.3,50 L558.3,53.3 L560,53.3 L560,56.7 L562,56.7 L562,60.8 L564,60.8 L564,64.2 L565.2,64.2 L565.2,65 L565.4,15 L566.8,15 L566.8,15.5 L567.5,25 L568.3,26.7 L569.2,31.7 L570.8,31.7 L570.8,35 L571.7,40 L573.3,40 L573.3,43.3 L574.2,47.5 L575.8,47.5 L575.8,51.7 L577.5,51.7 L577.5,56.7 L579.2,56.7 L579.2,61.7 L580.8,61.7 L580.8,66.7 L582.5,66.7 L582.5,71.7 L584.2,71.7 L584.2,76.7 L585.2,81.7 L585.5,43.3 L587.5,43.3 L587.5,55 L590,55 L590,65 L591.65,65 L591.65,70 L593.3,70 L593.3,75 L595,75 L595,79.15 L596.7,79.15 L596.7,83.3 L598.35,83.3 L598.35,87.5 L600,87.5 L600,91.7 L601.65,91.7 L601.65,95 L603.3,95 L603.3,98.3 L605.8,98.3 L605.8,99.2 L606.3,69.2 L608.3,69.2 L608.3,76.7 L610,76.7 L610,81.7 L611.7,81.7 L611.7,86.7 L613.35,86.7 L613.35,91.7 L615,91.7 L615,96.7 L616.7,96.7 L616.7,101.7 L618.35,101.7 L618.35,105 L620,105 L620,108.3 L621.7,108.3 L621.7,111.7 L624.2,111.7 L624.2,114.2 L626.3,114.5 L626.7,97 L629.2,97 L629.2,105 L630.85,105 L630.85,108.35 L632.5,108.35 L632.5,111.7 L635,111.7 L635,116.7 L637.5,116.7 L637.5,120.8 L640,120.8 L640,125 L642.5,125 L642.5,128.3 L644.15,128.3 L644.15,130 L645.8,130 L645.8,131.7 L646.7,132 L647,113.3 L649.2,113.3 L649.2,119.2 L651.7,119.2 L651.7,124.2 L654.2,124.2 L654.2,129.2 L655.85,129.2 L655.85,131.7 L657.5,131.7 L657.5,134.2 L659.15,134.2 L659.15,135.85 L660.8,135.85 L660.8,137.5 L662.9,137.5 L662.9,138.75 L665,138.75 L665,140 L667.2,140 L667.2,140.5 L667.5,130.8 L669.2,130.8 L669.2,135.8 L671.7,135.8 L671.7,140 L673.35,140 L673.35,141.65 L675,141.65 L675,143.3 L676.67,143.3 L676.67,144.7 L678.33,144.7 L678.33,146.1 L680,146.1 L680,147.5 L681.67,147.5 L681.67,148.6 L683.35,148.6 L683.35,149.7 L685.03,149.7 L685.03,150.8 L686.7,150.8 L686.7,151.9 L687.6,152 L687.9,141.4 L689.6,141.4 L689.6,144.4 L691.4,144.4 L691.4,147.4 L693.2,147.4 L693.2,149.2 L695,149.2 L695,151 L696.6,151 L696.6,152.17 L698.2,152.17 L698.2,153.33 L699.8,153.33 L699.8,154.5 L701.77,154.5 L701.77,155.5 L703.73,155.5 L703.73,156.5 L705.7,156.5 L705.7,157.5 L707.7,157.5 L707.7,158.1 L709.7,158.1 L709.7,158.7 L711.7,158.7 L711.7,159.3 L713.45,159.3 L713.45,159 L715.2,159 L715.2,158.7 L715.8,157.5 L718.2,157.5 L718.2,157.9 L718.8,163.3 L730,163.3" fill="none" stroke="#5fb834" stroke-width="1.15" stroke-linejoin="round"/>
<line x1="565.56" y1="12.26" x2="565.56" y2="163.5" stroke="#f06272" stroke-width="1.3" opacity="0.85"/>
<rect x="542.5" y="11.8" width="189" height="151.7" fill="none" stroke="#7a7a7a" stroke-width="1"/>
<line x1="580.3" y1="163.5" x2="580.3" y2="161.5" stroke="#7a7a7a" stroke-width="1"/>
<line x1="618.1" y1="163.5" x2="618.1" y2="161.5" stroke="#7a7a7a" stroke-width="1"/>
<line x1="655.9" y1="163.5" x2="655.9" y2="161.5" stroke="#7a7a7a" stroke-width="1"/>
<line x1="693.7" y1="163.5" x2="693.7" y2="161.5" stroke="#7a7a7a" stroke-width="1"/>
<line x1="542.5" y1="133.16" x2="544.5" y2="133.16" stroke="#7a7a7a" stroke-width="1"/>
<line x1="542.5" y1="102.82" x2="544.5" y2="102.82" stroke="#7a7a7a" stroke-width="1"/>
<line x1="542.5" y1="72.48" x2="544.5" y2="72.48" stroke="#7a7a7a" stroke-width="1"/>
<line x1="542.5" y1="42.14" x2="544.5" y2="42.14" stroke="#7a7a7a" stroke-width="1"/>
<text x="543.7" y="176.1" font-size="12" text-anchor="middle" >0</text>
<text x="580.3" y="176.1" font-size="12" text-anchor="middle" >1</text>
<text x="618.1" y="176.1" font-size="12" text-anchor="middle" >2</text>
<text x="655.9" y="176.1" font-size="12" text-anchor="middle" >3</text>
<text x="693.7" y="176.1" font-size="12" text-anchor="middle" >4</text>
<text x="731.5" y="176.1" font-size="12" text-anchor="middle" >5</text>
<text x="536.2" y="136.16" font-size="12" text-anchor="end" >0.2</text>
<text x="536.2" y="105.82" font-size="12" text-anchor="end" >0.4</text>
<text x="536.2" y="75.48" font-size="12" text-anchor="end" >0.6</text>
<text x="536.2" y="45.14" font-size="12" text-anchor="end" >0.8</text>
<text x="536.2" y="14.8" font-size="12" text-anchor="end" >1.0</text>
<text x="0" y="0" font-size="12" text-anchor="middle" transform="translate(511.2,86.4) rotate(-90)">Invulnerability</text>
<text x="620.5" y="188.6" font-size="12" text-anchor="start" >Rounds &#8201;(×10<tspan font-size="7.5" dy="-2.5">2</tspan><tspan dy="2.5">)</tspan></text>
<text x="578.7" y="202.5" font-size="12.3" text-anchor="start" >(c) Invulnerability at <tspan font-style="italic">r</tspan> = 3</text>
<line x1="584.1" y1="19.2" x2="601.9" y2="19.2" stroke="#dd6a86" stroke-width="1.15"/>
<text x="603.7" y="21.8" font-size="9.8" text-anchor="start" class="lg">Random Attacks</text>
<line x1="584.1" y1="28.1" x2="601.9" y2="28.1" stroke="#fbc24e" stroke-width="1.15"/>
<text x="603.7" y="30.7" font-size="9.8" text-anchor="start" class="lg">Maximum-degree Attacks</text>
<line x1="584.1" y1="37" x2="601.9" y2="37" stroke="#8fce6e" stroke-width="1.15"/>
<text x="603.7" y="39.6" font-size="9.8" text-anchor="start" class="lg">Maximum-betweenness Attacks</text>
<text x="604" y="50.3" font-size="12" text-anchor="start" >0.997</text>
<text x="604" y="59.4" font-size="12" text-anchor="start" >0.980</text>
<text x="604" y="68.8" font-size="12" text-anchor="start" >0.851</text>
<line x1="565.56" y1="12.26" x2="597.9" y2="41.64" stroke="#111" stroke-width="1.15"/>
<polygon points="601.6,45 595.98,43 599.08,39.6" fill="#111"/>
<line x1="565.56" y1="14.83" x2="598.26" y2="51.28" stroke="#111" stroke-width="1.15"/>
<polygon points="601.6,55 596.21,52.44 599.64,49.37" fill="#111"/>
<line x1="565.56" y1="34.4" x2="597.76" y2="61.3" stroke="#111" stroke-width="1.15"/>
<polygon points="601.6,64.5 595.9,62.74 598.85,59.21" fill="#111"/>
<line x1="542.5" y1="103.3" x2="552.94" y2="98.71" stroke="#111" stroke-width="1.15"/>
<polygon points="556.6,97.1 553.29,100.74 551.68,97.08" fill="#111"/>
<text x="558" y="100.7" font-size="12" text-anchor="start" >0.397</text>
<line x1="542.5" y1="103.3" x2="553.77" y2="114.57" stroke="#111" stroke-width="1.15"/>
<polygon points="556.6,117.4 552,115.63 554.83,112.8" fill="#111"/>
<text x="558" y="122.9" font-size="12" text-anchor="start" >0.392</text>
<line x1="542.5" y1="111.4" x2="554.12" y2="126.16" stroke="#111" stroke-width="1.15"/>
<polygon points="556.6,129.3 552.24,127 555.39,124.53" fill="#111"/>
<text x="558" y="135.7" font-size="12" text-anchor="start" >0.342</text>
<text x="566.8" y="159.9" font-size="12" text-anchor="start" >61</text>
<line x1="46.5" y1="223.86" x2="68.25" y2="223.86" stroke="#f03a4c" stroke-width="1" opacity="0.85"/>
<line x1="46.5" y1="227.95" x2="68.25" y2="227.95" stroke="#f03a4c" stroke-width="1" opacity="0.85"/>
<line x1="46.5" y1="259.31" x2="68.25" y2="259.31" stroke="#f03a4c" stroke-width="1" opacity="0.85"/>
<line x1="46.5" y1="309.16" x2="127.07" y2="309.16" stroke="#4646f0" stroke-width="1" opacity="0.85"/>
<line x1="46.5" y1="309.46" x2="127.07" y2="309.46" stroke="#4646f0" stroke-width="1" opacity="0.85"/>
<line x1="46.5" y1="321.88" x2="127.07" y2="321.88" stroke="#4646f0" stroke-width="1" opacity="0.85"/>
<line x1="127.07" y1="309.16" x2="127.07" y2="374.3" stroke="#4646f0" stroke-width="1.1" opacity="0.75"/>
<path d="M46.9,270.8 L48,270.8 L48,272.5 L50,272.5 L50,275 L51.5,275 L51.5,275.85 L53,275.85 L53,276.7 L54.5,276.7 L54.5,277.95 L56,277.95 L56,279.2 L57.5,279.2 L57.5,280.85 L59,280.85 L59,282.5 L60.5,282.5 L60.5,284.15 L62,284.15 L62,285.8 L63.5,285.8 L63.5,287.5 L65,287.5 L65,289.2 L66.4,289.2 L66.4,290.85 L67.8,290.85 L67.8,292.5 L68.2,259.4 L70,259.4 L70,263.3 L72,263.3 L72,270 L74,270 L74,276.7 L76,276.7 L76,283.3 L78,283.3 L78,290 L80,290 L80,296.7 L82,296.7 L82,301.7 L83.3,301.7 L83.3,305 L85,305 L85,306.5 L87.2,306.5 L87.2,307 L87.5,279.2 L89.2,279.2 L89.2,285 L90.8,285 L90.8,291 L92.5,291 L92.5,298 L94.2,298 L94.2,303 L95.8,303 L95.8,308 L97.5,308 L97.5,311.7 L99.2,311.7 L99.2,315 L100.8,315 L100.8,317.5 L102.5,317.5 L102.5,320 L105,320 L105,320.8 L106.4,321 L106.7,300 L108.3,300 L108.3,300.8 L110,300.8 L110,305 L111.7,305 L111.7,308.3 L113.3,308.3 L113.3,311.7 L115,311.7 L115,316.7 L116.7,316.7 L116.7,321.7 L118.3,321.7 L118.3,325 L120,325 L120,328.3 L121.7,328.3 L121.7,331.7 L123.3,331.7 L123.3,333.7 L124.65,333.7 L124.65,334.2 L126,334.2 L126,334.7 L126.3,320.8 L128.3,320.8 L128.3,325.8 L130,325.8 L130,330 L131.7,330 L131.7,334.2 L133.3,334.2 L133.3,337.5 L135.8,337.5 L135.8,340 L138.3,340 L138.3,342.5 L140.8,342.5 L140.8,344.2 L143.3,344.2 L143.3,345.8 L145.5,345.8 L145.5,346.7 L145.8,333.3 L147.5,333.3 L147.5,337.5 L149.2,337.5 L149.2,342.5 L150.6,342.5 L150.6,345 L152,345 L152,347.5 L153.5,347.5 L153.5,349.6 L155,349.6 L155,351.7 L156.65,351.7 L156.65,353.1 L158.3,353.1 L158.3,354.5 L160,354.5 L160,355.6 L161.7,355.6 L161.7,356.7 L163.3,356.7 L163.3,357.1 L164.9,357.1 L164.9,357.5 L165.3,349.2 L167.5,349.2 L167.5,352.5 L169.15,352.5 L169.15,354.5 L170.8,354.5 L170.8,356.5 L172.9,356.5 L172.9,358.25 L175,358.25 L175,360 L176.67,360 L176.67,360.93 L178.33,360.93 L178.33,361.87 L180,361.87 L180,362.8 L182.15,362.8 L182.15,363.5 L184.3,363.5 L184.3,364.2 L184.7,359.7 L186.5,359.7 L186.5,361.35 L188.3,361.35 L188.3,363 L189.98,363 L189.98,364.12 L191.65,364.12 L191.65,365.25 L193.32,365.25 L193.32,366.38 L195,366.38 L195,367.5 L196.67,367.5 L196.67,368.27 L198.33,368.27 L198.33,369.03 L200,369.03 L200,369.8 L201.68,369.8 L201.68,370.05 L203.35,370.05 L203.35,370.3 L205.02,370.3 L205.02,370.55 L206.7,370.55 L206.7,370.8 L208.35,370.8 L208.35,371.25 L210,371.25 L210,371.7 L211.68,371.7 L211.68,372.23 L213.35,372.23 L213.35,372.75 L215.02,372.75 L215.02,373.27 L216.7,373.27 L216.7,373.8" fill="none" stroke="#d42a48" stroke-width="1.15" stroke-linejoin="round"/>
<path d="M46.9,244.5 L47.5,246 L48.5,252 L50,252 L50,251.5 L52,251.5 L52,250.5 L54,250.5 L54,251.5 L56,251.5 L56,254 L58,254 L58,256.5 L60,256.5 L60,260.5 L62,260.5 L62,264.8 L64,264.8 L64,268 L66,268 L66,270.5 L67.8,270.5 L67.8,272.2 L68.2,228 L70.5,228 L71.8,228 L71.8,236 L73.2,236 L73.2,239.5 L74,246 L75.7,246 L75.7,252.7 L77.3,252.7 L77.3,261 L79,261 L79,269.3 L80.7,269.3 L80.7,277.7 L82.3,277.7 L82.3,284.3 L84,284.3 L84,289.3 L85.7,289.3 L85.7,291.8 L87.3,291.8 L87.3,292.5 L87.6,259.5 L89,259.5 L89,261 L90,272.5 L91.7,272.5 L91.7,276.7 L93.3,276.7 L93.3,281 L95,281 L95,285 L96.7,285 L96.7,289.2 L98.3,289.2 L98.3,293.4 L100,293.4 L100,297.5 L101.7,297.5 L101.7,301 L103.3,301 L103.3,304.2 L105,304.2 L105,307.5 L106.7,307.5 L106.7,308.7 L107,281.5 L108.5,281.5 L108.5,284 L109.2,287.5 L110.8,287.5 L110.8,292.5 L112.5,292.5 L112.5,297.5 L114.2,297.5 L114.2,302.5 L115.8,302.5 L115.8,306.7 L117.5,306.7 L117.5,311 L119.2,311 L119.2,316 L120.8,316 L120.8,319.2 L122.5,319.2 L122.5,322.5 L124.2,322.5 L124.2,325 L126.8,325 L126.8,326.7 L127.2,309.5 L129.2,309.5 L129.2,313.8 L130.8,313.8 L130.8,318 L132.5,318 L132.5,322.2 L134.2,322.2 L134.2,326.3 L136.7,326.3 L136.7,331.3 L139.2,331.3 L139.2,335.5 L141.7,335.5 L141.7,338.8 L144.2,338.8 L144.2,341.3 L145.5,341.5 L145.8,328.8 L147.5,328.8 L147.5,333.5 L149.2,333.5 L149.2,338.8 L151.7,338.8 L151.7,343.5 L153.35,343.5 L153.35,346.6 L155,346.6 L155,349.7 L156.65,349.7 L156.65,351.35 L158.3,351.35 L158.3,353 L160,353 L160,354.4 L161.7,354.4 L161.7,355.8 L163.3,355.8 L163.3,356.65 L164.9,356.65 L164.9,357.5 L165.3,347.5 L167.5,347.5 L167.5,350.8 L169.15,350.8 L169.15,352.9 L170.8,352.9 L170.8,355 L172.9,355 L172.9,357.1 L175,357.1 L175,359.2 L176.67,359.2 L176.67,360.3 L178.33,360.3 L178.33,361.4 L180,361.4 L180,362.5 L182.15,362.5 L182.15,363.25 L184.3,363.25 L184.3,364 L184.7,359.2 L186.5,359.2 L186.5,360.85 L188.3,360.85 L188.3,362.5 L189.98,362.5 L189.98,363.8 L191.65,363.8 L191.65,365.1 L193.32,365.1 L193.32,366.4 L195,366.4 L195,367.7 L196.68,367.7 L196.68,368.57 L198.35,368.57 L198.35,369.45 L200.02,369.45 L200.02,370.32 L201.7,370.32 L201.7,371.2 L203.85,371.2 L203.85,372.35 L206,372.35 L206,373.5" fill="none" stroke="#f6ad12" stroke-width="1.15" stroke-linejoin="round"/>
<path d="M46.9,242.5 L47.5,244.2 L48.5,250.8 L50,250.8 L50,250 L52,250 L52,249.2 L54,249.2 L54,250.8 L56,250.8 L56,253.3 L58,253.3 L58,255.8 L60,255.8 L60,260 L62,260 L62,264.2 L64,264.2 L64,267.5 L66,267.5 L66,270 L67.8,270 L67.8,271.7 L68.2,224.5 L69.8,224.5 L71.5,224.5 L71.5,235 L73.2,235 L73.2,238.3 L74,245 L75.7,245 L75.7,251.7 L77.3,251.7 L77.3,260 L79,260 L79,268.3 L80.7,268.3 L80.7,276.7 L82.3,276.7 L82.3,283.3 L84,283.3 L84,288.3 L85.7,288.3 L85.7,290.8 L87.3,290.8 L87.3,291.7 L87.6,260.8 L89,260.8 L89,263 L90,273.3 L91.7,273.3 L91.7,277.5 L93.3,277.5 L93.3,281.7 L95,281.7 L95,285.8 L96.7,285.8 L96.7,290 L98.3,290 L98.3,294.2 L100,294.2 L100,298.3 L101.7,298.3 L101.7,301.7 L103.3,301.7 L103.3,305 L105,305 L105,308.3 L106.7,308.3 L106.7,309.5 L107,282.5 L108.5,282.5 L108.5,285 L109.2,288.3 L110.8,288.3 L110.8,293.3 L112.5,293.3 L112.5,298.3 L114.2,298.3 L114.2,303.3 L115.8,303.3 L115.8,307.5 L117.5,307.5 L117.5,311.7 L119.2,311.7 L119.2,316.7 L120.8,316.7 L120.8,320 L122.5,320 L122.5,323.3 L124.2,323.3 L124.2,325.8 L126.8,325.8 L126.8,327.5 L127.2,309.2 L129.2,309.2 L129.2,313.3 L130.8,313.3 L130.8,317.5 L132.5,317.5 L132.5,321.7 L134.2,321.7 L134.2,325.8 L136.7,325.8 L136.7,330.8 L139.2,330.8 L139.2,335 L141.7,335 L141.7,338.3 L144.2,338.3 L144.2,340.8 L145.5,341 L145.8,329.7 L147.5,329.7 L147.5,334.2 L149.2,334.2 L149.2,339.2 L151.7,339.2 L151.7,343.3 L153.35,343.3 L153.35,346.25 L155,346.25 L155,349.2 L156.65,349.2 L156.65,350.85 L158.3,350.85 L158.3,352.5 L160,352.5 L160,353.75 L161.7,353.75 L161.7,355 L163.3,355 L163.3,355.85 L164.9,355.85 L164.9,356.7 L165.3,346.7 L167.5,346.7 L167.5,350 L169.15,350 L169.15,352.1 L170.8,352.1 L170.8,354.2 L172.9,354.2 L172.9,356.25 L175,356.25 L175,358.3 L176.67,358.3 L176.67,359.43 L178.33,359.43 L178.33,360.57 L180,360.57 L180,361.7 L182.15,361.7 L182.15,362.5 L184.3,362.5 L184.3,363.3 L184.7,358.3 L186.5,358.3 L186.5,360 L188.3,360 L188.3,361.7 L189.98,361.7 L189.98,362.95 L191.65,362.95 L191.65,364.2 L193.32,364.2 L193.32,365.45 L195,365.45 L195,366.7 L196.68,366.7 L196.68,367.52 L198.35,367.52 L198.35,368.35 L200.02,368.35 L200.02,369.18 L201.7,369.18 L201.7,370 L203.35,370 L203.35,370.75 L205,370.75 L205,371.5 L206.65,371.5 L206.65,372.25 L208.3,372.25 L208.3,373 L209.97,373 L209.97,373.27 L211.63,373.27 L211.63,373.53 L213.3,373.53 L213.3,373.8" fill="none" stroke="#5fb834" stroke-width="1.15" stroke-linejoin="round"/>
<line x1="68.25" y1="223.86" x2="68.25" y2="374.3" stroke="#f06272" stroke-width="1.3" opacity="0.85"/>
<rect x="46.5" y="222.8" width="188" height="151.5" fill="none" stroke="#7a7a7a" stroke-width="1"/>
<line x1="73.36" y1="374.3" x2="73.36" y2="372.3" stroke="#7a7a7a" stroke-width="1"/>
<line x1="100.21" y1="374.3" x2="100.21" y2="372.3" stroke="#7a7a7a" stroke-width="1"/>
<line x1="127.07" y1="374.3" x2="127.07" y2="372.3" stroke="#7a7a7a" stroke-width="1"/>
<line x1="153.93" y1="374.3" x2="153.93" y2="372.3" stroke="#7a7a7a" stroke-width="1"/>
<line x1="180.79" y1="374.3" x2="180.79" y2="372.3" stroke="#7a7a7a" stroke-width="1"/>
<line x1="207.64" y1="374.3" x2="207.64" y2="372.3" stroke="#7a7a7a" stroke-width="1"/>
<line x1="46.5" y1="344" x2="48.5" y2="344" stroke="#7a7a7a" stroke-width="1"/>
<line x1="46.5" y1="313.7" x2="48.5" y2="313.7" stroke="#7a7a7a" stroke-width="1"/>
<line x1="46.5" y1="283.4" x2="48.5" y2="283.4" stroke="#7a7a7a" stroke-width="1"/>
<line x1="46.5" y1="253.1" x2="48.5" y2="253.1" stroke="#7a7a7a" stroke-width="1"/>
<text x="47.7" y="387.3" font-size="12" text-anchor="middle" >0</text>
<text x="73.36" y="387.3" font-size="12" text-anchor="middle" >1</text>
<text x="100.21" y="387.3" font-size="12" text-anchor="middle" >2</text>
<text x="127.07" y="387.3" font-size="12" text-anchor="middle" >3</text>
<text x="153.93" y="387.3" font-size="12" text-anchor="middle" >4</text>
<text x="180.79" y="387.3" font-size="12" text-anchor="middle" >5</text>
<text x="207.64" y="387.3" font-size="12" text-anchor="middle" >6</text>
<text x="234.5" y="387.3" font-size="12" text-anchor="middle" >7</text>
<text x="40.2" y="346.3" font-size="12" text-anchor="end" >0.2</text>
<text x="40.2" y="316" font-size="12" text-anchor="end" >0.4</text>
<text x="40.2" y="285.7" font-size="12" text-anchor="end" >0.6</text>
<text x="40.2" y="255.4" font-size="12" text-anchor="end" >0.8</text>
<text x="40.2" y="225.1" font-size="12" text-anchor="end" >1.0</text>
<text x="0" y="0" font-size="12" text-anchor="middle" transform="translate(15.3,296.6) rotate(-90)">Invulnerability</text>
<text x="123.9" y="399.5" font-size="12" text-anchor="start" >Rounds(×10<tspan font-size="7.5" dy="-2.5">2</tspan><tspan dy="2.5">)</tspan></text>
<text x="74.1" y="412.5" font-size="12.3" text-anchor="start" >(d) Invulnerability at <tspan font-style="italic">r</tspan> = 4</text>
<line x1="87" y1="233.1" x2="104.8" y2="233.1" stroke="#dd6a86" stroke-width="1.15"/>
<text x="106.6" y="235.7" font-size="9.8" text-anchor="start" class="lg">Random Attacks</text>
<line x1="87" y1="242" x2="104.8" y2="242" stroke="#fbc24e" stroke-width="1.15"/>
<text x="106.6" y="244.6" font-size="9.8" text-anchor="start" class="lg">Maximum-degree Attacks</text>
<line x1="87" y1="250.9" x2="104.8" y2="250.9" stroke="#8fce6e" stroke-width="1.15"/>
<text x="106.6" y="253.5" font-size="9.8" text-anchor="start" class="lg">Maximum-betweenness Attacks</text>
<text x="97.2" y="264.8" font-size="12" text-anchor="start" >0.993</text>
<text x="97.2" y="273.9" font-size="12" text-anchor="start" >0.966</text>
<text x="97.2" y="282.9" font-size="12" text-anchor="start" >0.759</text>
<line x1="68.25" y1="223.86" x2="91.45" y2="254.04" stroke="#111" stroke-width="1.15"/>
<polygon points="94.5,258 89.32,255.04 92.97,252.24" fill="#111"/>
<line x1="68.25" y1="227.95" x2="91.76" y2="263.82" stroke="#111" stroke-width="1.15"/>
<polygon points="94.5,268 89.56,264.66 93.41,262.14" fill="#111"/>
<line x1="68.25" y1="259.31" x2="90.9" y2="275.14" stroke="#111" stroke-width="1.15"/>
<polygon points="95,278 89.17,276.74 91.81,272.96" fill="#111"/>
<line x1="46.5" y1="309.2" x2="52.33" y2="305.46" stroke="#111" stroke-width="1.15"/>
<polygon points="55.7,303.3 52.99,307.41 50.83,304.05" fill="#111"/>
<text x="57.6" y="307.3" font-size="12" text-anchor="start" >0.430</text>
<line x1="46.5" y1="309.2" x2="52.28" y2="312.72" stroke="#111" stroke-width="1.15"/>
<polygon points="55.7,314.8 50.82,314.17 52.9,310.75" fill="#111"/>
<text x="57.6" y="319.1" font-size="12" text-anchor="start" >0.428</text>
<line x1="46.5" y1="321.4" x2="52.55" y2="326.13" stroke="#111" stroke-width="1.15"/>
<polygon points="55.7,328.6 50.92,327.4 53.39,324.25" fill="#111"/>
<text x="57.6" y="332.4" font-size="12" text-anchor="start" >0.346</text>
<text x="69" y="370.2" font-size="12" text-anchor="start" >81</text>
<line x1="294.5" y1="224.01" x2="318.24" y2="224.01" stroke="#f03a4c" stroke-width="1" opacity="0.85"/>
<line x1="294.5" y1="263.25" x2="318.24" y2="263.25" stroke="#f03a4c" stroke-width="1" opacity="0.85"/>
<line x1="294.5" y1="267.49" x2="318.24" y2="267.49" stroke="#f03a4c" stroke-width="1" opacity="0.85"/>
<line x1="294.5" y1="316.88" x2="388.5" y2="316.88" stroke="#4646f0" stroke-width="1" opacity="0.85"/>
<line x1="294.5" y1="334.46" x2="388.5" y2="334.46" stroke="#4646f0" stroke-width="1" opacity="0.85"/>
<line x1="294.5" y1="336.88" x2="388.5" y2="336.88" stroke="#4646f0" stroke-width="1" opacity="0.85"/>
<line x1="388.5" y1="316.88" x2="388.5" y2="374.3" stroke="#4646f0" stroke-width="1.1" opacity="0.75"/>
<path d="M294.5,287 L296.5,287 L296.5,289.1 L298.25,289.1 L298.25,289.65 L300,289.65 L300,290.2 L303,290.2 L304.5,290.2 L304.5,290.45 L306,290.45 L306,290.7 L308,290.7 L308,291.8 L309.5,291.8 L309.5,293.4 L311,293.4 L311,295.5 L313,295.5 L313,298.2 L315,298.2 L315,300.9 L317,300.9 L317,303.6 L317.9,304 L318.1,267.6 L319.5,267.6 L319.5,268 L321,268 L321,277.5 L323.3,277.5 L323.3,280 L325,280 L325,285.8 L326.7,285.8 L326.7,290.8 L329.2,290.8 L329.2,298.3 L330.8,298.3 L330.8,303.3 L333.3,303.3 L333.3,309.2 L335.8,309.2 L335.8,313.3 L337.5,313.3 L337.5,315.8 L339.7,315.8 L339.7,316.7 L340,299.2 L341.5,299.2 L341.5,300 L342.5,305 L345,305 L345,310.8 L347.5,310.8 L347.5,315 L350,315 L350,319.2 L352.5,319.2 L352.5,322.5 L355,322.5 L355,325 L357.5,325 L357.5,327.5 L359,327.5 L359,327.9 L360.5,327.9 L360.5,328.3 L360.8,301 L362.5,301 L362.5,305 L364.2,305 L364.2,311.7 L366.7,311.7 L366.7,318.3 L369.2,318.3 L369.2,323.3 L371.7,323.3 L371.7,327.5 L373.35,327.5 L373.35,329.6 L375,329.6 L375,331.7 L377.1,331.7 L377.1,333.75 L379.2,333.75 L379.2,335.8 L381.7,335.8 L381.7,336.7 L382,328.8 L383.4,328.8 L383.4,331.15 L384.8,331.15 L384.8,333.5 L387.1,333.5 L387.1,336.9 L388.6,336.9 L390.7,336.9 L390.7,342.5 L392.5,342.5 L392.5,344 L394.3,344 L394.3,345.5 L395.87,345.5 L395.87,346.83 L397.43,346.83 L397.43,348.17 L399,348.17 L399,349.5 L400.65,349.5 L400.65,350.45 L402.3,350.45 L402.3,351.4 L402.6,340.7 L404.4,340.7 L404.4,344.6 L406.2,344.6 L406.2,348.5 L407.8,348.5 L407.8,350.17 L409.4,350.17 L409.4,351.83 L411,351.83 L411,353.5 L412.77,353.5 L412.77,354.75 L414.55,354.75 L414.55,356 L416.33,356 L416.33,357.25 L418.1,357.25 L418.1,358.5 L419.97,358.5 L419.97,359.33 L421.83,359.33 L421.83,360.17 L423.7,360.17 L423.7,361 L424,353.8 L425.8,353.8 L425.8,355.9 L427.6,355.9 L427.6,358 L429.4,358 L429.4,359.12 L431.2,359.12 L431.2,360.25 L433,360.25 L433,361.38 L434.8,361.38 L434.8,362.5 L436.7,362.5 L436.7,363.14 L438.6,363.14 L438.6,363.78 L440.5,363.78 L440.5,364.42 L442.4,364.42 L442.4,365.06 L444.3,365.06 L444.3,365.7 L445.9,365.7 L445.9,366 L446.2,362.1 L447.93,362.1 L447.93,363.73 L449.67,363.73 L449.67,365.37 L451.4,365.37 L451.4,367 L453.32,367 L453.32,367.7 L455.24,367.7 L455.24,368.4 L457.16,368.4 L457.16,369.1 L459.08,369.1 L459.08,369.8 L461,369.8 L461,370.5 L462.9,370.5 L462.9,370.9 L464.8,370.9 L464.8,371.3 L466.7,371.3 L466.7,371.7 L468.6,371.7 L468.6,372.1 L470.5,372.1 L470.5,372.5 L472.07,372.5 L472.07,372.77 L473.63,372.77 L473.63,373.03 L475.2,373.03 L475.2,373.3 L476.77,373.3 L476.77,373.48 L478.35,373.48 L478.35,373.65 L479.93,373.65 L479.93,373.82 L481.5,373.82 L481.5,374" fill="none" stroke="#d42a48" stroke-width="1.15" stroke-linejoin="round"/>
<path d="M294.5,241.3 L296,241.3 L297,246.7 L298.5,246.7 L298.5,247.1 L300,247.1 L300,247.5 L301.5,247.5 L301.5,247.9 L303,247.9 L303,248.3 L304.5,248.3 L304.5,249.15 L306,249.15 L306,250 L308,250 L308,251.7 L310,251.7 L310,254.2 L312,254.2 L312,256.7 L314,256.7 L314,260 L315.5,260 L315.5,262.5 L317,262.5 L317,265 L317.9,265.5 L318.1,224.1 L320.5,224.2 L321,231.7 L322,240 L323,245 L325,245 L325,248.3 L327,248.3 L327,251.7 L329,251.7 L329,255.8 L331,255.8 L331,260 L333,260 L333,265 L334.2,265 L334.2,276.7 L335.8,276.7 L335.8,281.7 L337.5,281.7 L337.5,285.8 L339.6,285.8 L339.6,286.7 L340,251.7 L341.5,251.7 L342,262 L343.35,262 L343.35,269.35 L344.7,269.35 L344.7,276.7 L345.8,276.7 L345.8,278.3 L347.5,278.3 L347.5,283.3 L349.2,283.3 L349.2,287.5 L350.8,287.5 L350.8,291.7 L352.5,291.7 L352.5,295.8 L354.2,295.8 L354.2,300 L355.8,300 L355.8,302.5 L358.3,302.5 L358.3,305 L360.5,305 L360.5,305.8 L360.8,280 L362.5,280 L362.5,281.7 L364.2,281.7 L364.2,286.7 L365.8,286.7 L365.8,290.8 L367.5,290.8 L367.5,295 L369.2,295 L369.2,300 L370.8,300 L370.8,305 L372.5,305 L372.5,310 L374.2,310 L374.2,315 L375.8,315 L375.8,318.3 L378.3,318.3 L378.3,320.8 L380,320.8 L380,322.05 L381.7,322.05 L381.7,323.3 L382,301.9 L383.4,301.9 L383.4,305.25 L384.8,305.25 L384.8,308.6 L387.1,308.6 L387.1,315.7 L389.5,315.7 L389.5,321.7 L391.3,321.7 L391.3,324.05 L393.1,324.05 L393.1,326.4 L394.9,326.4 L394.9,328.8 L396.7,328.8 L396.7,331.2 L398.45,331.2 L398.45,333.6 L400.2,333.6 L400.2,336 L402.3,336 L402.3,337.2 L402.6,322.4 L404.4,322.4 L404.4,326.8 L406.2,326.8 L406.2,331.2 L408,331.2 L408,334.75 L409.8,334.75 L409.8,338.3 L411.55,338.3 L411.55,340.7 L413.3,340.7 L413.3,343.1 L414.9,343.1 L414.9,344.7 L416.5,344.7 L416.5,346.3 L418.1,346.3 L418.1,347.9 L419.97,347.9 L419.97,349.07 L421.83,349.07 L421.83,350.23 L423.7,350.23 L423.7,351.4 L424,341.4 L425.8,341.4 L425.8,344.65 L427.6,344.65 L427.6,347.9 L429.2,347.9 L429.2,349.87 L430.8,349.87 L430.8,351.83 L432.4,351.83 L432.4,353.8 L434.37,353.8 L434.37,355.4 L436.33,355.4 L436.33,357 L438.3,357 L438.3,358.6 L440.3,358.6 L440.3,359.53 L442.3,359.53 L442.3,360.47 L444.3,360.47 L444.3,361.4 L445.9,361.4 L445.9,362 L446.2,354.5 L447.93,354.5 L447.93,356.67 L449.67,356.67 L449.67,358.83 L451.4,358.83 L451.4,361 L453.2,361 L453.2,362.18 L455,362.18 L455,363.35 L456.8,363.35 L456.8,364.52 L458.6,364.52 L458.6,365.7 L460.38,365.7 L460.38,366.6 L462.15,366.6 L462.15,367.5 L463.93,367.5 L463.93,368.4 L465.7,368.4 L465.7,369.3 L467.5,369.3 L467.5,369.9 L469.3,369.9 L469.3,370.5 L471.1,370.5 L471.1,371.1 L472.9,371.1 L472.9,371.7 L474.47,371.7 L474.47,372.23 L476.03,372.23 L476.03,372.77 L477.6,372.77 L477.6,373.3 L479.55,373.3 L479.55,373.65 L481.5,373.65 L481.5,374" fill="none" stroke="#f6ad12" stroke-width="1.15" stroke-linejoin="round"/>
<path d="M294.5,272 L295.5,272.5 L296.5,277.9 L298.25,277.9 L298.25,278.2 L300,278.2 L300,278.5 L302,278.5 L302,278.9 L303.5,278.9 L303.5,279.45 L305,279.45 L305,280 L307,280 L307,281.6 L309,281.6 L309,282.7 L310,284.3 L312,284.3 L312,287 L314,287 L314,290.2 L316,290.2 L316,292.3 L317.9,292.3 L317.9,294.5 L318.1,263.3 L319.5,263.5 L320,266 L321,270 L322.5,270 L322.5,278.3 L324.2,278.3 L324.2,283.3 L325.8,283.3 L325.8,288.3 L327.5,288.3 L327.5,293.3 L329.2,293.3 L329.2,297.5 L330.8,297.5 L330.8,300.8 L332.5,300.8 L332.5,304.2 L334.2,304.2 L334.2,306.7 L336.7,306.7 L336.7,309.2 L338.2,309.2 L338.2,310 L339.7,310 L339.7,310.8 L340,289.2 L341.5,289.2 L341.5,290 L342.5,298.3 L344.2,298.3 L344.2,303.3 L346.7,303.3 L346.7,309.2 L349.2,309.2 L349.2,313.3 L351.7,313.3 L351.7,317.5 L354.2,317.5 L354.2,320 L356.7,320 L356.7,322.5 L359.2,322.5 L359.2,324.2 L360.5,324.2 L360.5,324.5 L360.8,307.5 L362.5,307.5 L362.5,309 L364.2,309 L364.2,314.2 L366.7,314.2 L366.7,318.3 L369.2,318.3 L369.2,322.5 L371.7,322.5 L371.7,326.7 L373.35,326.7 L373.35,329.2 L375,329.2 L375,331.7 L376.65,331.7 L376.65,332.95 L378.3,332.95 L378.3,334.2 L380,334.2 L380,334.6 L381.7,334.6 L381.7,335 L382,325.2 L383.4,325.2 L383.4,328.2 L384.8,328.2 L384.8,331.2 L387.1,331.2 L387.1,334.5 L388.6,334.5 L390.7,334.5 L390.7,340.7 L392.5,340.7 L392.5,341.9 L394.3,341.9 L394.3,343.1 L395.87,343.1 L395.87,344.3 L397.43,344.3 L397.43,345.5 L399,345.5 L399,346.7 L400.65,346.7 L400.65,347.5 L402.3,347.5 L402.3,348.3 L402.6,338.3 L404.4,338.3 L404.4,342.5 L406.2,342.5 L406.2,346.7 L407.8,346.7 L407.8,348.27 L409.4,348.27 L409.4,349.83 L411,349.83 L411,351.4 L412.77,351.4 L412.77,352.6 L414.55,352.6 L414.55,353.8 L416.33,353.8 L416.33,355 L418.1,355 L418.1,356.2 L419.97,356.2 L419.97,357 L421.83,357 L421.83,357.8 L423.7,357.8 L423.7,358.6 L424,351.9 L425.8,351.9 L425.8,354.05 L427.6,354.05 L427.6,356.2 L429.4,356.2 L429.4,357.4 L431.2,357.4 L431.2,358.6 L433,358.6 L433,359.8 L434.8,359.8 L434.8,361 L436.7,361 L436.7,361.56 L438.6,361.56 L438.6,362.12 L440.5,362.12 L440.5,362.68 L442.4,362.68 L442.4,363.24 L444.3,363.24 L444.3,363.8 L445.9,363.8 L445.9,364.2 L446.2,361 L447.93,361 L447.93,362.57 L449.67,362.57 L449.67,364.13 L451.4,364.13 L451.4,365.7 L453.32,365.7 L453.32,366.42 L455.24,366.42 L455.24,367.14 L457.16,367.14 L457.16,367.86 L459.08,367.86 L459.08,368.58 L461,368.58 L461,369.3 L462.9,369.3 L462.9,369.78 L464.8,369.78 L464.8,370.26 L466.7,370.26 L466.7,370.74 L468.6,370.74 L468.6,371.22 L470.5,371.22 L470.5,371.7 L472.27,371.7 L472.27,372.1 L474.05,372.1 L474.05,372.5 L475.83,372.5 L475.83,372.9 L477.6,372.9 L477.6,373.3 L479.55,373.3 L479.55,373.65 L481.5,373.65 L481.5,374" fill="none" stroke="#5fb834" stroke-width="1.15" stroke-linejoin="round"/>
<line x1="318.24" y1="224.01" x2="318.24" y2="374.3" stroke="#f06272" stroke-width="1.3" opacity="0.85"/>
<rect x="294.5" y="222.8" width="188" height="151.5" fill="none" stroke="#7a7a7a" stroke-width="1"/>
<line x1="318" y1="374.3" x2="318" y2="372.3" stroke="#7a7a7a" stroke-width="1"/>
<line x1="341.5" y1="374.3" x2="341.5" y2="372.3" stroke="#7a7a7a" stroke-width="1"/>
<line x1="365" y1="374.3" x2="365" y2="372.3" stroke="#7a7a7a" stroke-width="1"/>
<line x1="388.5" y1="374.3" x2="388.5" y2="372.3" stroke="#7a7a7a" stroke-width="1"/>
<line x1="412" y1="374.3" x2="412" y2="372.3" stroke="#7a7a7a" stroke-width="1"/>
<line x1="435.5" y1="374.3" x2="435.5" y2="372.3" stroke="#7a7a7a" stroke-width="1"/>
<line x1="459" y1="374.3" x2="459" y2="372.3" stroke="#7a7a7a" stroke-width="1"/>
<line x1="294.5" y1="344" x2="296.5" y2="344" stroke="#7a7a7a" stroke-width="1"/>
<line x1="294.5" y1="313.7" x2="296.5" y2="313.7" stroke="#7a7a7a" stroke-width="1"/>
<line x1="294.5" y1="283.4" x2="296.5" y2="283.4" stroke="#7a7a7a" stroke-width="1"/>
<line x1="294.5" y1="253.1" x2="296.5" y2="253.1" stroke="#7a7a7a" stroke-width="1"/>
<text x="295.7" y="387.3" font-size="12" text-anchor="middle" >0</text>
<text x="318" y="387.3" font-size="12" text-anchor="middle" >1</text>
<text x="341.5" y="387.3" font-size="12" text-anchor="middle" >2</text>
<text x="365" y="387.3" font-size="12" text-anchor="middle" >3</text>
<text x="388.5" y="387.3" font-size="12" text-anchor="middle" >4</text>
<text x="412" y="387.3" font-size="12" text-anchor="middle" >5</text>
<text x="435.5" y="387.3" font-size="12" text-anchor="middle" >6</text>
<text x="459" y="387.3" font-size="12" text-anchor="middle" >7</text>
<text x="482.5" y="387.3" font-size="12" text-anchor="middle" >8</text>
<text x="288.2" y="346.3" font-size="12" text-anchor="end" >0.2</text>
<text x="288.2" y="316" font-size="12" text-anchor="end" >0.4</text>
<text x="288.2" y="285.7" font-size="12" text-anchor="end" >0.6</text>
<text x="288.2" y="255.4" font-size="12" text-anchor="end" >0.8</text>
<text x="288.2" y="225.1" font-size="12" text-anchor="end" >1.0</text>
<text x="0" y="0" font-size="12" text-anchor="middle" transform="translate(263.2,296.6) rotate(-90)">Invulnerability</text>
<text x="373.3" y="399.5" font-size="12" text-anchor="start" >Rounds (×10<tspan font-size="7.5" dy="-2.5">2</tspan><tspan dy="2.5">)</tspan></text>
<text x="326" y="412.7" font-size="12.3" text-anchor="start" >(e) Invulnerability at <tspan font-style="italic">r</tspan> = 5</text>
<line x1="335" y1="233.1" x2="352.8" y2="233.1" stroke="#dd6a86" stroke-width="1.15"/>
<text x="354.6" y="235.7" font-size="9.8" text-anchor="start" class="lg">Random Attacks</text>
<line x1="335" y1="242" x2="352.8" y2="242" stroke="#fbc24e" stroke-width="1.15"/>
<text x="354.6" y="244.6" font-size="9.8" text-anchor="start" class="lg">Maximum-degree Attacks</text>
<line x1="335" y1="250.9" x2="352.8" y2="250.9" stroke="#8fce6e" stroke-width="1.15"/>
<text x="354.6" y="253.5" font-size="9.8" text-anchor="start" class="lg">Maximum-betweenness Attacks</text>
<text x="353.4" y="264.8" font-size="12" text-anchor="start" >0.992</text>
<text x="353.4" y="273.7" font-size="12" text-anchor="start" >0.733</text>
<text x="353.4" y="283.3" font-size="12" text-anchor="start" >0.705</text>
<line x1="318.24" y1="224.01" x2="348.32" y2="256.82" stroke="#111" stroke-width="1.15"/>
<polygon points="351.7,260.5 346.29,258 349.68,254.89" fill="#111"/>
<line x1="318.24" y1="263.25" x2="346.8" y2="269.01" stroke="#111" stroke-width="1.15"/>
<polygon points="351.7,270 345.85,271.17 346.76,266.66" fill="#111"/>
<line x1="318.24" y1="267.49" x2="346.95" y2="277.02" stroke="#111" stroke-width="1.15"/>
<polygon points="351.7,278.6 345.76,279.05 347.2,274.68" fill="#111"/>
<line x1="294.5" y1="316.7" x2="301.11" y2="311.71" stroke="#111" stroke-width="1.15"/>
<polygon points="304.3,309.3 301.91,313.61 299.5,310.42" fill="#111"/>
<text x="304.6" y="313.7" font-size="12" text-anchor="start" >0.379</text>
<line x1="294.5" y1="334.3" x2="301.11" y2="329.31" stroke="#111" stroke-width="1.15"/>
<polygon points="304.3,326.9 301.91,331.21 299.5,328.02" fill="#111"/>
<text x="304.6" y="330.8" font-size="12" text-anchor="start" >0.263</text>
<line x1="294.5" y1="336.6" x2="301.15" y2="341.83" stroke="#111" stroke-width="1.15"/>
<polygon points="304.3,344.3 299.53,343.09 302,339.95" fill="#111"/>
<text x="304.6" y="350.1" font-size="12" text-anchor="start" >0.247</text>
<text x="322.6" y="372" font-size="12" text-anchor="start" >101</text>
</svg></div></body></html>
